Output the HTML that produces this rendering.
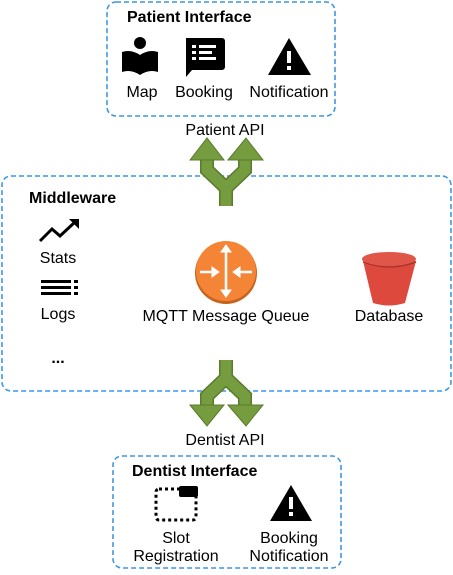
<!DOCTYPE html>
<html><head><style>
body{margin:0;width:453px;height:570px;background:#fff;overflow:hidden}
svg text{font-family:"Liberation Sans",sans-serif;font-size:16px;fill:#000}
.b{font-weight:bold}
</style></head><body>
<svg width="453" height="570" viewBox="0 0 453 570">
<g fill="none" stroke="#3d97e6" stroke-width="1.6" stroke-dasharray="5,3">
<rect x="107" y="2" width="228" height="114" rx="9"/>
<rect x="2" y="176" width="449" height="215" rx="9"/>
<rect x="113" y="456" width="228" height="112" rx="9"/>
</g>
<g>
<polyline points="226,206 226,188 207,170 207,156" fill="none" stroke="#5a7a2e" stroke-width="14"/>
<polyline points="226,188 245,170 245,156" fill="none" stroke="#5a7a2e" stroke-width="14"/>
<polyline points="226,206 226,188 207,170 207,156" fill="none" stroke="#759c3e" stroke-width="11"/>
<polyline points="226,188 245,170 245,156" fill="none" stroke="#759c3e" stroke-width="11"/>
<polygon points="190,160 207,138 224,160" fill="#759c3e" stroke="#5a7a2e"/>
<polygon points="228,160 246,138 263,160" fill="#759c3e" stroke="#5a7a2e"/>
</g>
<g>
<polyline points="226,360 226,378 207,396 207,410" fill="none" stroke="#5a7a2e" stroke-width="14"/>
<polyline points="226,378 245,396 245,410" fill="none" stroke="#5a7a2e" stroke-width="14"/>
<polyline points="226,360 226,378 207,396 207,410" fill="none" stroke="#759c3e" stroke-width="11"/>
<polyline points="226,378 245,396 245,410" fill="none" stroke="#759c3e" stroke-width="11"/>
<polygon points="190,405 207,426 224,405" fill="#759c3e" stroke="#5a7a2e"/>
<polygon points="228,405 246,426 263,405" fill="#759c3e" stroke="#5a7a2e"/>
</g>
<text x="127" y="22" class="b">Patient Interface</text>
<circle cx="140" cy="43" r="6"/>
<path d="M122,52 Q131,49 140,55 Q149,49 158,52 L158,72 Q149,69 140,75 Q131,69 122,72Z"/>
<path d="M186,38 h36 a3,3 0 0 1 3,3 v26 a3,3 0 0 1 -3,3 h-30 l-6,7z"/>
<g fill="#fff"><rect x="192" y="45" width="4" height="3"/><rect x="199" y="45" width="17" height="3"/><rect x="192" y="51" width="4" height="3"/><rect x="199" y="51" width="13" height="3"/><rect x="192" y="57" width="4" height="3"/><rect x="199" y="57" width="17" height="3"/></g>
<polygon points="289,38 311,75 268,75"/>
<rect x="287" y="51" width="4" height="12" fill="#fff"/><rect x="287" y="66" width="4" height="4" fill="#fff"/>
<text x="142" y="97" text-anchor="middle">Map</text>
<text x="204" y="97" text-anchor="middle">Booking</text>
<text x="289" y="97" text-anchor="middle">Notification</text>
<text x="225" y="135" text-anchor="middle">Patient API</text>
<text x="29" y="203" class="b">Middleware</text>
<polyline points="40,241 52,229 60,236 75,222" fill="none" stroke="#000" stroke-width="3"/>
<polygon points="69,219 79,219 79,229"/>
<text x="58" y="263" text-anchor="middle">Stats</text>
<g><rect x="41" y="280" width="30" height="3"/><rect x="41" y="286" width="30" height="3"/><rect x="41" y="292" width="30" height="3"/><rect x="74" y="280" width="4" height="3"/><rect x="74" y="286" width="4" height="3"/><rect x="74" y="292" width="4" height="3"/></g>
<text x="58" y="319" text-anchor="middle">Logs</text>
<text x="58" y="363" text-anchor="middle" class="b">...</text>
<circle cx="226" cy="273" r="31" fill="#c7631f"/>
<circle cx="226" cy="271" r="30" fill="#f58536"/>
<g stroke="#fff" stroke-width="2.5" fill="#fff">
<line x1="226" y1="250" x2="226" y2="294"/>
<polygon points="221,252 226,245 231,252" stroke-width="1"/>
<polygon points="221,290 226,297 231,290" stroke-width="1"/>
<line x1="200" y1="272" x2="212" y2="272"/>
<polygon points="212,267 219,272 212,277" stroke-width="1"/>
<line x1="240" y1="272" x2="252" y2="272"/>
<polygon points="240,267 233,272 240,277" stroke-width="1"/>
</g>
<text x="226" y="321" text-anchor="middle">MQTT Message Queue</text>
<path d="M363,261 L373,303 Q389,308 405,303 L416,261Z" fill="#dd4a3d"/>
<ellipse cx="389" cy="259" rx="27" ry="7" fill="#e0574a"/>
<path d="M363,262 Q389,272 416,262" fill="none" stroke="#a8322a" stroke-width="1.2"/>
<text x="389" y="321" text-anchor="middle">Database</text>
<text x="225" y="445" text-anchor="middle">Dentist API</text>
<text x="132" y="476" class="b">Dentist Interface</text>
<rect x="156" y="489" width="40" height="31" rx="3" fill="none" stroke="#000" stroke-width="3" stroke-dasharray="3,3"/>
<rect x="179" y="486" width="19" height="11" rx="2"/>
<polygon points="291,485 312,521 270,521"/>
<rect x="289" y="497" width="4" height="12" fill="#fff"/><rect x="289" y="512" width="4" height="4" fill="#fff"/>
<text x="176" y="543" text-anchor="middle">Slot</text>
<text x="176" y="561" text-anchor="middle">Registration</text>
<text x="289" y="543" text-anchor="middle">Booking</text>
<text x="289" y="561" text-anchor="middle">Notification</text>
</svg>
</body></html>
